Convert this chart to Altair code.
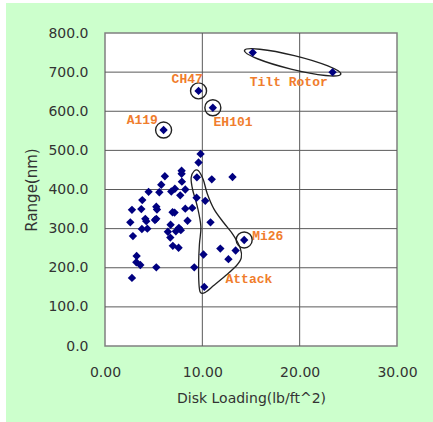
import math
import altair as alt
import pandas as pd

# Helicopter survey: disk loading (lb/ft^2) against range (nm)
disk_loading = [9.82, 9.61, 7.87, 7.87, 6.15, 9.44, 10.97, 5.78, 7.90, 7.18,
                6.81, 4.48, 5.58, 8.25, 7.73, 9.41, 10.30, 3.83, 2.77, 3.73,
                5.27, 5.34, 6.94, 7.15, 8.25, 8.96, 4.14, 4.24, 2.60, 5.27,
                5.13, 8.48, 10.84, 6.74, 3.79, 4.35, 6.46, 7.59, 7.79, 7.28,
                2.87, 6.71, 6.97, 7.56, 3.25, 3.22, 3.63, 5.27, 9.17, 10.12,
                2.77, 10.20, 11.85, 13.10, 13.42, 12.68]
range_nm = [491, 469, 448, 440, 434, 431, 426, 412, 420, 402,
            395, 394, 393, 400, 385, 379, 371, 373, 348, 350,
            356, 349, 342, 341, 351, 353, 325, 319, 316, 325,
            322, 320, 316, 310, 299, 300, 292, 302, 296, 293,
            281, 277, 256, 251, 230, 214, 207, 201, 201, 234,
            174, 151, 249, 432, 244, 222]

# Individually circled aircraft
named = ["CH47", "EH101", "A119", "Mi26"]
named_x = [9.61, 11.08, 6.02, 14.30]
named_y = [652, 609, 552, 271]

# Tilt rotor pair
tilt_x = [15.18, 23.38]
tilt_y = [750, 700]

# Annotation texts and their anchor positions (data units)
note_text = ["CH47", "EH101", "A119", "Mi26", "Tilt Rotor", "Attack"]
note_x = [6.84, 11.15, 2.23, 15.12, 14.87, 12.38]
note_y = [682, 573, 578, 281, 675, 170]

# Outline of the attack-helicopter group (data units)
attack_x = [9.60, 10.10, 10.50, 11.20, 12.20, 13.20, 13.90, 14.00, 13.50, 12.40,
            11.20, 10.30, 9.80, 9.65, 9.62, 9.70, 9.85, 9.50, 9.00, 8.85, 9.15]
attack_y = [448, 425, 390, 350, 315, 283, 250, 225, 205, 180,
            155, 137, 137, 160, 210, 260, 305, 355, 400, 430, 447]

x_ticks = [0, 10, 20, 30]
y_ticks = [0, 100, 200, 300, 400, 500, 600, 700, 800]

W, H = 292, 313
PAD = {"left": 105, "top": 33, "right": 36, "bottom": 76}
GREEN = "#ccffcc"
NAVY = "#000080"
ORANGE = "#f07d2d"
TEXT = "#333333"

xscale = alt.Scale(domain=[0, 30], nice=False, zero=False)
yscale = alt.Scale(domain=[0, 800], nice=False, zero=False)

xaxis = alt.Axis(values=x_ticks, format=".2f", grid=False, ticks=False, domain=False,
                 labelFont="DejaVu Sans", labelFontSize=14, labelColor=TEXT,
                 labelPadding=19, labelFlush=False, labelOverlap=False,
                 title="Disk Loading(lb/ft^2)", titleFont="DejaVu Sans",
                 titleFontSize=14, titleFontWeight="normal", titleColor=TEXT,
                 titlePadding=12, zindex=1)
yaxis = alt.Axis(values=y_ticks, format=".1f", grid=False, ticks=False, domain=False,
                 labelFont="DejaVu Sans", labelFontSize=14, labelColor=TEXT,
                 labelPadding=17, labelOverlap=False,
                 title="Range(nm)", titleFont="DejaVu Sans", titleFontSize=15,
                 titleFontWeight="normal", titleColor=TEXT, titleX=-74,
                 titleBaseline="middle", zindex=1)


def X(field="x"):
    return alt.X(f"{field}:Q", scale=xscale, axis=xaxis)


def Y(field="y"):
    return alt.Y(f"{field}:Q", scale=yscale, axis=yaxis)


one = pd.DataFrame({"k": [0]})

# Green panel behind the whole figure and the white plotting field
panel = alt.Chart(one).mark_rect(color=GREEN).encode(
    x=alt.value(-99), x2=alt.value(W + PAD["right"]),
    y=alt.value(-30), y2=alt.value(H + PAD["bottom"]))
field = alt.Chart(one).mark_rect(fill="white", stroke="#808080", strokeWidth=1.5).encode(
    x=alt.value(0), x2=alt.value(W), y=alt.value(0), y2=alt.value(H))

xgrid = alt.Chart(pd.DataFrame({"x": x_ticks[1:-1]})).mark_rule(
    color="#5a5a5a", strokeWidth=1).encode(x=X())
ygrid = alt.Chart(pd.DataFrame({"y": y_ticks[1:-1]})).mark_rule(
    color="#5a5a5a", strokeWidth=1).encode(y=Y())

attack = alt.Chart(pd.DataFrame({"x": attack_x, "y": attack_y,
                                 "seq": list(range(len(attack_x)))})).mark_line(
    color="#222222", strokeWidth=1.3, interpolate="cardinal-closed").encode(
    x=X(), y=Y(), order="seq:Q")

# Ellipse enclosing the tilt rotor pair, sized from the two points
px_x, px_y = W / 30, H / 800
dxp = (tilt_x[1] - tilt_x[0]) * px_x
dyp = (tilt_y[0] - tilt_y[1]) * px_y
span = math.hypot(dxp, dyp) + 17
tilt_angle = math.degrees(math.atan2(dyp, dxp))
ellipse_path = "M -1 0 A 1 0.14 0 1 1 1 0 A 1 0.14 0 1 1 -1 0 Z"
tilt_mid = pd.DataFrame({"x": [sum(tilt_x) / 2], "y": [sum(tilt_y) / 2]})
ellipse = alt.Chart(tilt_mid).mark_point(
    shape=ellipse_path, filled=False, stroke="#222222", strokeWidth=1.4,
    size=span ** 2, angle=tilt_angle, opacity=1).encode(x=X(), y=Y())

rings = alt.Chart(pd.DataFrame({"x": named_x, "y": named_y})).mark_point(
    shape="circle", filled=False, stroke="#222222", strokeWidth=1.4,
    size=256, opacity=1).encode(x=X(), y=Y())

all_x = disk_loading + named_x + tilt_x
all_y = range_nm + named_y + tilt_y
points = alt.Chart(pd.DataFrame({"x": all_x, "y": all_y})).mark_point(
    shape="diamond", filled=True, color=NAVY, size=70, opacity=1).encode(x=X(), y=Y())

notes = alt.Chart(pd.DataFrame({"x": note_x, "y": note_y, "t": note_text})).mark_text(
    align="left", baseline="middle", font="Liberation Mono", fontSize=13,
    fontWeight="bold", color=ORANGE).encode(x=X(), y=Y(), text="t:N")

chart = alt.layer(panel, field, xgrid, ygrid, attack, ellipse, rings, points, notes).properties(
    width=W, height=H, background="white", padding=PAD,
    autosize=alt.AutoSizeParams(type="none"),
).configure_view(stroke=None)

chart.save("out.html", embed_options={"renderer": "svg", "actions": False})
